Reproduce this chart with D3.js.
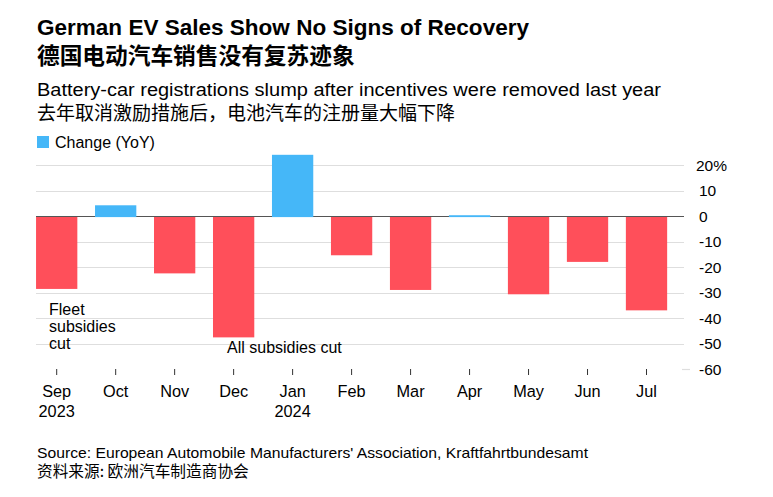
<!DOCTYPE html>
<html><head><meta charset="utf-8">
<script src="https://cdn.jsdelivr.net/npm/d3@7"></script>
<style>
body{margin:0;background:#fff;}
svg{display:block;font-family:"Liberation Sans",Arial,Helvetica,sans-serif;}
</style></head>
<body>
<script>
const months = ["Sep","Oct","Nov","Dec","Jan","Feb","Mar","Apr","May","Jun","Jul"];
const years = ["2023","","","","2024","","","","","",""];
const changeYoY = [-28.6, 4.2, -22.5, -47.6, 24.0, -15.4, -29.0, 0.3, -30.7, -18.0, -37.0];
const yTicks = [20, 10, 0, -10, -20, -30, -40, -50, -60];
const yTickLabels = ["20%", "10", "0", "-10", "-20", "-30", "-40", "-50", "-60"];

const W = 773, H = 497;
const svg = d3.select("body").append("svg").attr("width", W).attr("height", H);

const x = d3.scaleBand().domain(months).range([27.2, 676]).paddingInner(0.3).paddingOuter(0.15);
const y = d3.scaleLinear().domain([-60, 20]).range([369, 165]);
const gridX0 = 36, gridX1 = 684;
const CJK = "'Noto Sans CJK SC','Noto Sans CJK JP',sans-serif";
const data = changeYoY.map((v, i) => ({ m: months[i], v }));
const zeroY = Math.round(y(0)) + 0.5;

// gridlines
svg.append("g").selectAll("line").data(yTicks.filter(d => d !== 0 && d !== -60)).join("line")
  .attr("x1", gridX0).attr("x2", gridX1)
  .attr("y1", d => Math.round(y(d)) + 0.5).attr("y2", d => Math.round(y(d)) + 0.5)
  .attr("stroke", "#dedede").attr("stroke-width", 1.2);
svg.append("line").attr("x1", gridX1 - 2).attr("x2", gridX1 + 6)
  .attr("y1", Math.round(y(-60)) + 0.5).attr("y2", Math.round(y(-60)) + 0.5)
  .attr("stroke", "#dedede").attr("stroke-width", 1.2);

// y labels
svg.append("g").selectAll("text").data(yTicks).join("text")
  .attr("x", (d, i) => i === 0 ? 696 : 699)
  .attr("y", d => y(d) + 5.5)
  .attr("font-size", 15.5).attr("fill", "#000")
  .text((d, i) => yTickLabels[i]);

// negative bars
svg.append("g").selectAll("rect").data(data.filter(d => d.v < 0)).join("rect")
  .attr("x", d => x(d.m)).attr("width", x.bandwidth())
  .attr("y", y(0)).attr("height", d => y(d.v) - y(0))
  .attr("fill", "#ff4f5a");

// zero line
svg.append("line").attr("x1", gridX0).attr("x2", gridX1)
  .attr("y1", zeroY).attr("y2", zeroY)
  .attr("stroke", "#555").attr("stroke-width", 1.2);

// positive bars (drawn over the zero line)
svg.append("g").selectAll("rect").data(data.filter(d => d.v >= 0)).join("rect")
  .attr("x", d => x(d.m)).attr("width", x.bandwidth())
  .attr("y", d => Math.min(y(d.v), zeroY - 1))
  .attr("height", d => zeroY + 0.6 - Math.min(y(d.v), zeroY - 1))
  .attr("fill", "#45b7f8");

// x axis ticks + labels
const xa = svg.append("g");
xa.selectAll("line").data(months).join("line")
  .attr("x1", d => x(d) + x.bandwidth() / 2).attr("x2", d => x(d) + x.bandwidth() / 2)
  .attr("y1", 369).attr("y2", 375)
  .attr("stroke", "#333").attr("stroke-width", 1);
xa.selectAll("text.m").data(months).join("text").attr("class", "m")
  .attr("x", d => x(d) + x.bandwidth() / 2).attr("y", 397)
  .attr("text-anchor", "middle").attr("font-size", 16.3).text(d => d);
xa.selectAll("text.yr").data(years).join("text").attr("class", "yr")
  .attr("x", (d, i) => x(months[i]) + x.bandwidth() / 2).attr("y", 417)
  .attr("text-anchor", "middle").attr("font-size", 16.3).text(d => d);

// annotations
const ann = svg.append("g").attr("font-size", 16).attr("fill", "#000");
["Fleet", "subsidies", "cut"].forEach((t, i) => ann.append("text").attr("x", 49).attr("y", 315 + i * 17).text(t));
ann.append("text").attr("x", 227).attr("y", 353).text("All subsidies cut");

// titles
svg.append("text").attr("x", 37).attr("y", 35).attr("font-size", 22.5).attr("font-weight", "bold")
  .attr("textLength", 492).attr("lengthAdjust", "spacingAndGlyphs")
  .text("German EV Sales Show No Signs of Recovery");
svg.append("text").attr("x", 37).attr("y", 64).attr("font-size", 22.7).attr("font-weight", "bold")
  .style("font-family", CJK).text("德国电动汽车销售没有复苏迹象");
svg.append("text").attr("x", 37).attr("y", 96).attr("font-size", 17.5)
  .attr("textLength", 624).attr("lengthAdjust", "spacingAndGlyphs")
  .text("Battery-car registrations slump after incentives were removed last year");
svg.append("text").attr("x", 37).attr("y", 120).attr("font-size", 19)
  .style("font-family", CJK).text("去年取消激励措施后，电池汽车的注册量大幅下降");

// legend
svg.append("rect").attr("x", 37).attr("y", 136).attr("width", 12).attr("height", 12).attr("fill", "#45b7f8");
svg.append("text").attr("x", 55).attr("y", 148).attr("font-size", 16).text("Change (YoY)");

// source
svg.append("text").attr("x", 37).attr("y", 458).attr("font-size", 15)
  .attr("textLength", 551).attr("lengthAdjust", "spacingAndGlyphs")
  .text("Source: European Automobile Manufacturers' Association, Kraftfahrtbundesamt");
svg.append("text").attr("x", 37).attr("y", 477).attr("font-size", 15.7)
  .style("font-family", CJK).text("资料来源: 欧洲汽车制造商协会");
</script>
</body></html>
